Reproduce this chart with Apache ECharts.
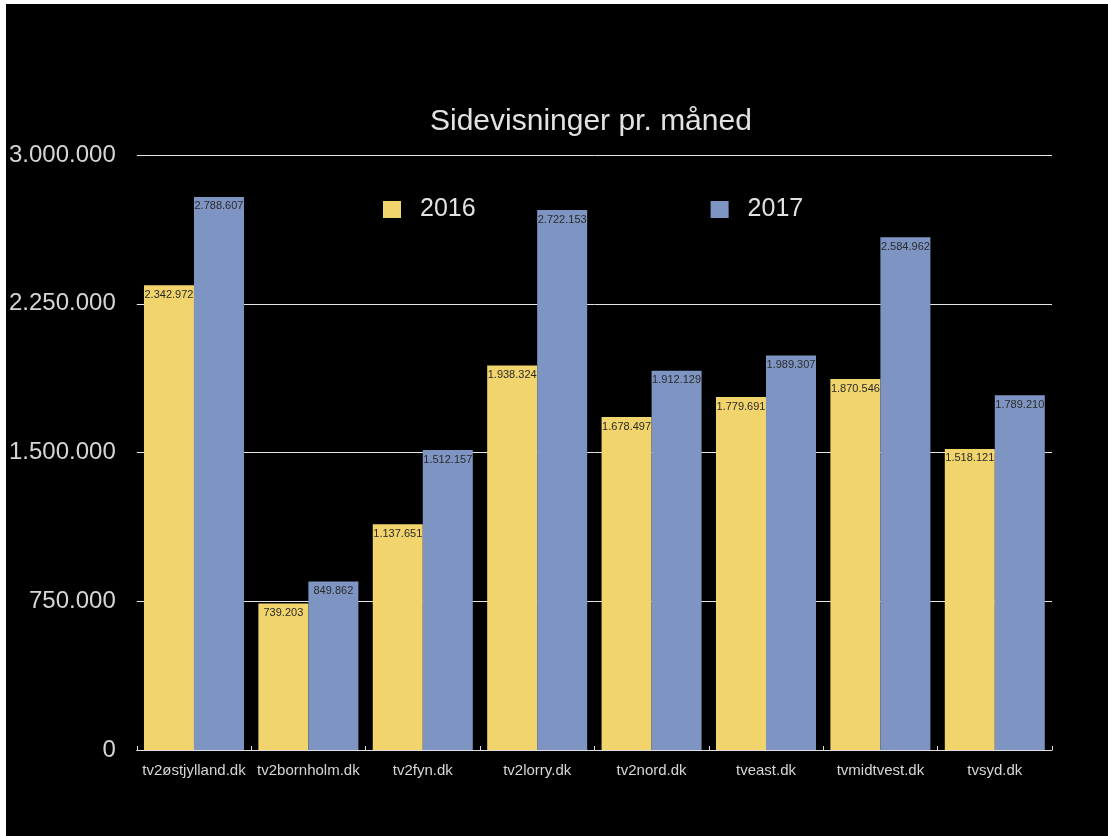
<!DOCTYPE html>
<html>
<head>
<meta charset="utf-8">
<script src="https://cdn.jsdelivr.net/npm/echarts@6/dist/echarts.min.js"></script>
<style>
html,body{margin:0;padding:0;background:#fff;width:1108px;height:836px;overflow:hidden;}
#chart{position:absolute;left:6px;top:4px;width:1102px;height:832px;background:#000;}
</style>
</head>
<body>
<div id="chart"></div>
<script>
const categories = ['tv2østjylland.dk','tv2bornholm.dk','tv2fyn.dk','tv2lorry.dk','tv2nord.dk','tveast.dk','tvmidtvest.dk','tvsyd.dk'];
const values2016 = [2342972, 739203, 1137651, 1938324, 1678497, 1779691, 1870546, 1518121];
const values2017 = [2788607, 849862, 1512157, 2722153, 1912129, 1989307, 2584962, 1789210];
const yTicks = [0, 750000, 1500000, 2250000, 3000000];

function fmt(v){ return String(Math.round(v)).replace(/\B(?=(\d{3})+(?!\d))/g, '.'); }

const FONT = '"Liberation Sans", Helvetica, Arial, sans-serif';
const chart = echarts.init(document.getElementById('chart'));
const labelCfg = {show:true, position:'insideTop', distance:4, fontSize:11, color:'#2a2a2a', fontFamily:FONT, formatter:p=>fmt(p.value)};
chart.setOption({
  backgroundColor:'#000',
  animation:false,
  title:{text:'Sidevisninger pr. måned', left:419, top:98, textStyle:{color:'#e2e2e2', fontSize:30, fontWeight:'normal', fontFamily:FONT}},
  legend:{left:372, top:188, itemWidth:18, itemHeight:17, itemGap:235, icon:'rect', textStyle:{color:'#e2e2e2', fontSize:25, fontFamily:FONT, padding:[0,0,0,14]}, data:['2016','2017']},
  grid:{left:130, right:56, top:151, bottom:86},
  xAxis:{type:'category', data:categories,
    axisLine:{lineStyle:{color:'#e0e0e0', width:1}},
    axisTick:{show:true, inside:true, length:4, lineStyle:{color:'#e0e0e0'}},
    axisLabel:{color:'#d6d6d6', fontSize:15, fontFamily:FONT, margin:13, interval:0}},
  yAxis:{type:'value', min:yTicks[0], max:yTicks[yTicks.length-1], interval:yTicks[1]-yTicks[0],
    axisLine:{show:false}, axisTick:{show:false},
    splitLine:{lineStyle:{color:'#e6e6e6', width:1}},
    axisLabel:{color:'#d6d6d6', fontSize:24, fontFamily:FONT, margin:21, formatter:v=>fmt(v)}},
  series:[
    {name:'2016', type:'bar', data:values2016, barWidth:50, barGap:'0%', itemStyle:{color:'#f2d46c'}, label:labelCfg},
    {name:'2017', type:'bar', data:values2017, barWidth:50, barGap:'0%', itemStyle:{color:'#7e95c3'}, label:labelCfg}
  ]
});
</script>
</body>
</html>
